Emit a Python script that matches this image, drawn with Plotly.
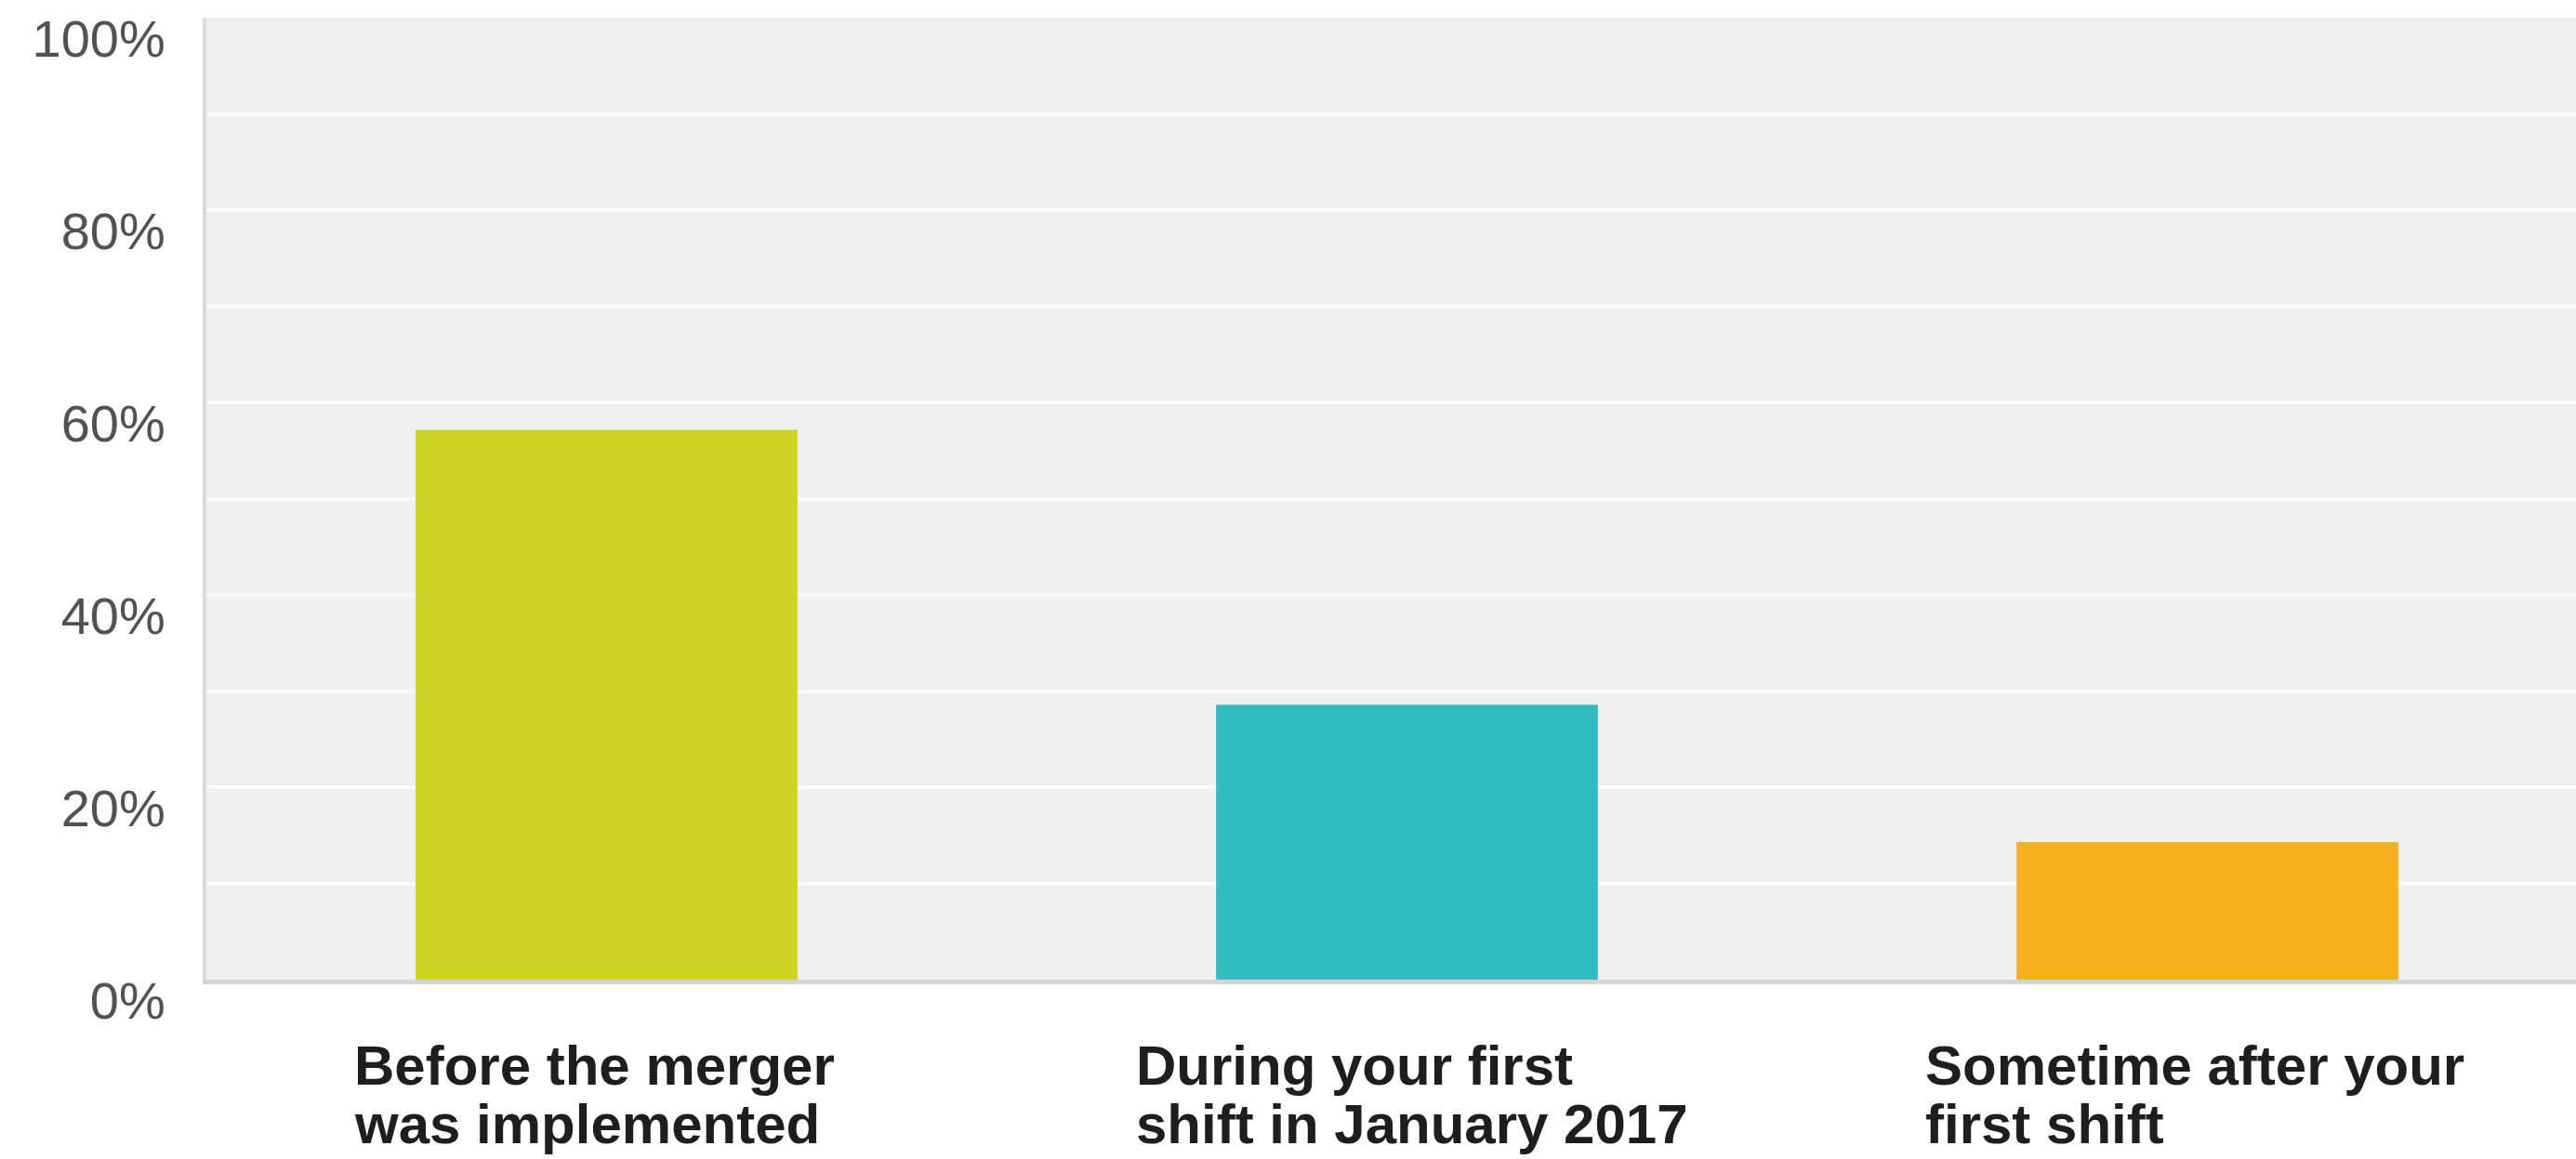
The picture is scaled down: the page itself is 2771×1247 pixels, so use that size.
import plotly.graph_objects as go

# Survey responses: when respondents were told about the change
categories = [
    "Before the merger<br>was implemented",
    "During your first<br>shift in January 2017",
    "Sometime after your<br>first shift",
]
shares = [0.5714, 0.2857, 0.1429]
bar_colors = ["#cdd325", "#31bcc1", "#f7b11e"]
tick_values = [0, 0.2, 0.4, 0.6, 0.8, 1.0]
tick_labels = ["0%", "20%", "40%", "60%", "80%", "100%"]

W, H = 2771, 1247
M_L, M_R, M_T, M_B = 222, 0, 19, 193

fig = go.Figure(
    go.Bar(
        x=categories,
        y=shares,
        marker=dict(color=bar_colors, line=dict(width=0)),
        width=0.477,
        hoverinfo="skip",
    )
)

# category slot width in pixels; the plot area runs off the right edge
slot_px = 861
x_right = (W - M_L - M_R) / slot_px - 0.5

label_font = dict(
    family="Liberation Sans, Arial, sans-serif",
    size=60,
    color="#1e1e1e",
)
label_xshift = [-273, -293, -305]
line_gap = 63
annotations = []
for i, cat in enumerate(categories):
    for j, line in enumerate(cat.split("<br>")):
        annotations.append(
            dict(
                x=cat,
                xref="x",
                y=0,
                yref="paper",
                xanchor="left",
                yanchor="top",
                xshift=label_xshift[i],
                yshift=-58 - j * line_gap,
                text="<b>" + line + "</b>",
                showarrow=False,
                align="left",
                borderpad=0,
                font=label_font,
            )
        )

fig.update_layout(
    width=W,
    height=H,
    margin=dict(l=M_L, r=M_R, t=M_T, b=M_B, pad=0),
    paper_bgcolor="#ffffff",
    plot_bgcolor="#efefef",
    showlegend=False,
    annotations=annotations,
    xaxis=dict(
        type="category",
        range=[-0.5, x_right],
        showticklabels=False,
        showgrid=False,
        zeroline=False,
        showline=True,
        linecolor="#d4d4d4",
        linewidth=5,
        ticks="",
        fixedrange=True,
    ),
    yaxis=dict(
        range=[0, 1],
        tickvals=tick_values,
        ticktext=tick_labels,
        tickfont=dict(family="Liberation Sans, Arial, sans-serif", size=56, color="#525252"),
        ticks="",
        ticklabelstandoff=29,
        ticklabelshift=22,
        showgrid=True,
        gridcolor="#fafafa",
        gridwidth=4,
        minor=dict(dtick=0.1, showgrid=True, gridcolor="#fafafa", gridwidth=4),
        zeroline=False,
        showline=True,
        linecolor="#dadada",
        linewidth=4,
        fixedrange=True,
    ),
)

fig.write_html("out.html", config={"displayModeBar": False})
